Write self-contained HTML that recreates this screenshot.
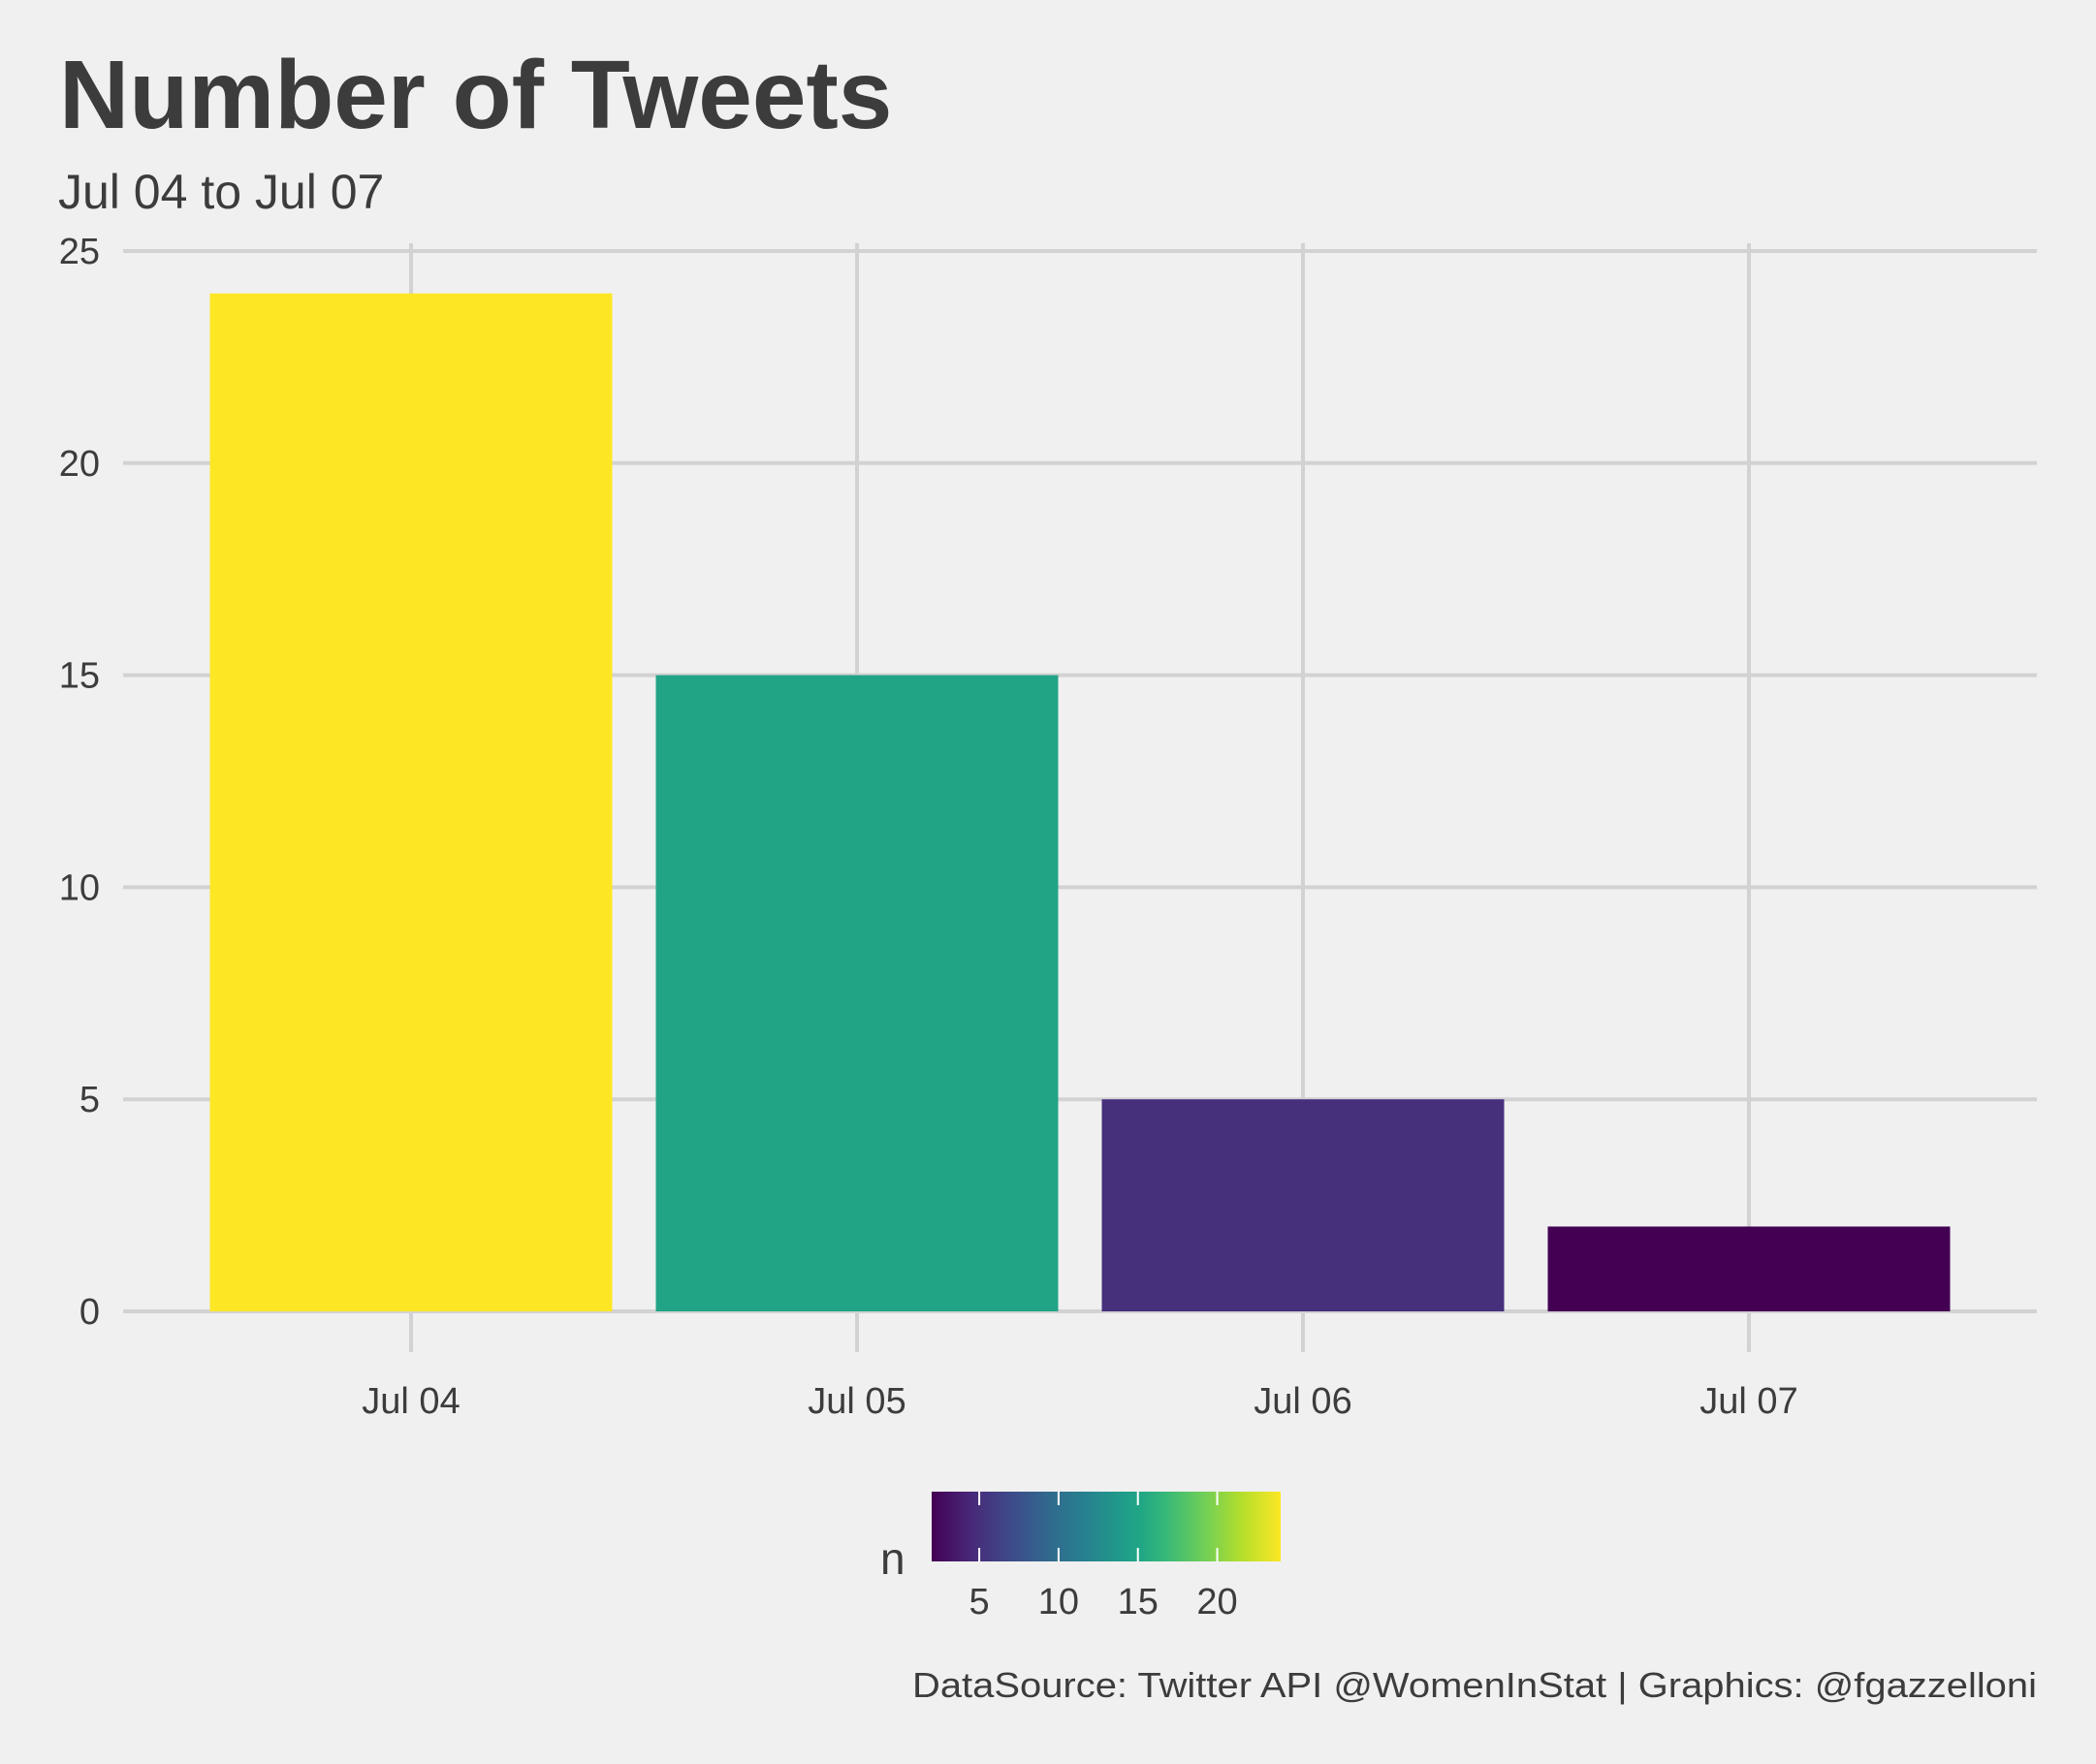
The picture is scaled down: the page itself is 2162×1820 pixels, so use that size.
<!DOCTYPE html>
<html><head><meta charset="utf-8"><style>
html,body{margin:0;padding:0;background:#f0f0f0;}
svg{display:block;font-family:"Liberation Sans",Arial,sans-serif;}
</style></head><body>
<svg id="chart" width="2162" height="1820" viewBox="0 0 2162 1820" xmlns="http://www.w3.org/2000/svg">
<rect width="2162" height="1820" fill="#f0f0f0"/>
<text x="61" y="132" font-size="100" font-weight="bold" fill="#3c3c3c">Number of Tweets</text>
<text x="60" y="215" font-size="50" fill="#3c3c3c">Jul 04 to Jul 07</text>
<g id="grid"></g><g id="bars"></g><g id="axes"></g><g id="legend"></g>
<text x="2101" y="1751" font-size="36" fill="#3c3c3c" text-anchor="end" textLength="1160" lengthAdjust="spacingAndGlyphs">DataSource: Twitter API @WomenInStat | Graphics: @fgazzelloni</text>
</svg>
<script>
const categories = ["Jul 04","Jul 05","Jul 06","Jul 07"];
const values = [24, 15, 5, 2];
const yTicks = [0, 5, 10, 15, 20, 25];
const legendTicks = [5, 10, 15, 20];

const NS="http://www.w3.org/2000/svg";
const viridis=["#440154","#482878","#3e4989","#31688e","#26828e","#1f9e89","#21a685","#35b779","#6ece58","#b5de2b","#fde725"];
const vStops=[0,0.111,0.222,0.333,0.444,0.556,0.6,0.667,0.778,0.889,1];
function hex(h){return [1,3,5].map(i=>parseInt(h.substr(i,2),16));}
function vir(t){t=Math.max(0,Math.min(1,t));let i=0;while(i<vStops.length-2&&t>vStops[i+1])i++;const f=(t-vStops[i])/(vStops[i+1]-vStops[i]);const a=hex(viridis[i]),b=hex(viridis[i+1]);return "rgb("+a.map((v,k)=>Math.round(v+(b[k]-v)*f)).join(",")+")";}
function mk(tag,attrs,parent){const e=document.createElementNS(NS,tag);for(const k in attrs)e.setAttribute(k,attrs[k]);parent.appendChild(e);return e;}
const yMax=25, y0=1353, y25=259;
const yS=v=>y0-(v/yMax)*(y0-y25);
const xS=i=>424+i*460;
const barW=415;
const vMin=Math.min(...values), vMax=Math.max(...values);
const grid=document.getElementById('grid'), bars=document.getElementById('bars'), axes=document.getElementById('axes'), leg=document.getElementById('legend');

yTicks.forEach(t=>{
  const l=mk('line',{x1:127,x2:2101,y1:yS(t),y2:yS(t),stroke:'#d2d2d2','stroke-width':4},grid);
  
  
  const tx=mk('text',{x:103,y:yS(t)+13,'font-size':38,fill:'#3c3c3c','text-anchor':'end'},axes);
  tx.textContent=t;
  
  
});
categories.forEach((c,i)=>{
  const l=mk('line',{x1:xS(i),x2:xS(i),y1:251,y2:1395,stroke:'#d2d2d2','stroke-width':4},grid);
  
  
  const tx=mk('text',{x:xS(i),y:1458,'font-size':38,fill:'#3c3c3c','text-anchor':'middle'},axes);
  tx.textContent=c;
  
  
});
values.forEach((v,i)=>{
  const r=mk('rect',{x:xS(i)-barW/2,y:yS(v),width:barW,height:yS(0)-yS(v),fill:vir((v-vMin)/(vMax-vMin))},bars);
  
  
});
// legend
const lx0=961,lx1=1321,ly0=1539,ly1=1611;
const defs=mk('defs',{},leg);
const grad=mk('linearGradient',{id:'vg',x1:0,x2:1,y1:0,y2:0},defs);
viridis.forEach((c,i)=>mk('stop',{offset:vStops[i],'stop-color':c},grad));
const lb=mk('rect',{x:lx0,y:ly0,width:lx1-lx0,height:ly1-ly0,fill:'url(#vg)'},leg);


const lS=v=>lx0+(v-vMin)/(vMax-vMin)*(lx1-lx0);
legendTicks.forEach(t=>{
  const a=mk('line',{x1:lS(t),x2:lS(t),y1:ly0,y2:ly0+14,stroke:'#fff','stroke-width':2},leg);
  
  
  const b=mk('line',{x1:lS(t),x2:lS(t),y1:ly1-14,y2:ly1,stroke:'#fff','stroke-width':2},leg);
  
  
  const tx=mk('text',{x:lS(t),y:1665,'font-size':38,fill:'#3c3c3c','text-anchor':'middle'},leg);
  tx.textContent=t;
  
  
});
const nt=mk('text',{x:908,y:1624,'font-size':46,fill:'#3c3c3c'},leg);
nt.textContent='n';


</script>
</body></html>
